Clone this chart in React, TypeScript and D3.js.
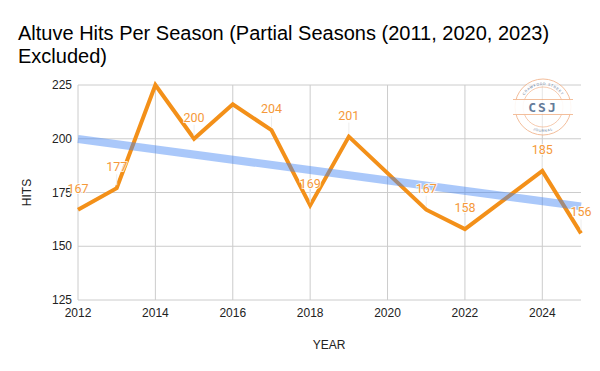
import React from "react";
import * as d3 from "d3";

const years = [2012, 2013, 2014, 2015, 2016, 2017, 2018, 2019, 2021, 2022, 2024, 2025];
const hits = [167, 177, 225, 200, 216, 204, 169, 201, 167, 158, 185, 156];
const showLabel = [true, true, false, true, false, true, true, true, true, true, true, true];
const xTicks = [2012, 2014, 2016, 2018, 2020, 2022, 2024];
const yTicks = [125, 150, 175, 200, 225];

const W = 600, H = 371;
const M = { left: 78, right: 19, top: 85, bottom: 71 };

export default function App() {
  const x = d3.scaleLinear().domain([2012, 2025]).range([M.left, W - M.right]);
  const y = d3.scaleLinear().domain([125, 225]).range([H - M.bottom, M.top]);
  const pts = years.map((yr, i) => [yr, hits[i]] as [number, number]);
  const line = d3.line<[number, number]>().x(d => x(d[0])).y(d => y(d[1]));

  const mx = d3.mean(years)!;
  const my = d3.mean(hits)!;
  const slope = d3.sum(years, (v, i) => (v - mx) * (hits[i] - my)) / d3.sum(years, v => (v - mx) ** 2);
  const trend = (v: number) => my + slope * (v - mx);

  const font = "'Liberation Sans', Arial, sans-serif";
  const cx = 543, cy = 107, r = 28;

  return (
    <svg width={W} height={H} style={{ position: "absolute", left: 0, top: 0, background: "#fff" }}>
      <rect width={W} height={H} fill="#fff" />
      <text x={18} y={40} fontFamily={font} fontSize={20} fill="#000">Altuve Hits Per Season (Partial Seasons (2011, 2020, 2023)</text>
      <text x={18} y={63} fontFamily={font} fontSize={20} fill="#000">Excluded)</text>

      {yTicks.map(t => (
        <g key={t}>
          <line x1={M.left} x2={W - M.right} y1={y(t)} y2={y(t)} stroke="#cccccc" strokeWidth={1} />
          <text x={M.left - 6} y={y(t) + 4} textAnchor="end" fontFamily={font} fontSize={12} fill="#222">{t}</text>
        </g>
      ))}
      {xTicks.map(t => (
        <g key={t}>
          <line x1={x(t)} x2={x(t)} y1={M.top} y2={H - M.bottom} stroke="#cccccc" strokeWidth={1} />
          <text x={x(t)} y={H - M.bottom + 17} textAnchor="middle" fontFamily={font} fontSize={12} fill="#222">{t}</text>
        </g>
      ))}

      <text transform={`translate(31,${(M.top + H - M.bottom) / 2}) rotate(-90)`} textAnchor="middle" fontFamily={font} fontSize={12} fill="#222">HITS</text>
      <text x={329} y={349} textAnchor="middle" fontFamily={font} fontSize={12} fill="#222">YEAR</text>

      {/* watermark */}
      <g opacity={0.85}>
        <defs>
          <path id="arcTop" d={`M ${cx - 22} ${cy} A 22 22 0 0 1 ${cx + 22} ${cy}`} />
          <path id="arcBot" d={`M ${cx - 25} ${cy} A 25 25 0 0 0 ${cx + 25} ${cy}`} />
        </defs>
        <circle cx={cx} cy={cy} r={r} fill="#fff" fillOpacity={0.6} stroke="#f2b38a" strokeWidth={1} />
        <circle cx={cx} cy={cy} r={r - 8} fill="none" stroke="#f2b38a" strokeWidth={0.8} />
        <rect x={cx - 30} y={cy - 7.5} width={60} height={15} fill="#fff" opacity={0.9} />
        <line x1={cx - 30} x2={cx + 30} y1={cy - 7.5} y2={cy - 7.5} stroke="#f2b38a" strokeWidth={1} />
        <line x1={cx - 30} x2={cx + 30} y1={cy + 7.5} y2={cy + 7.5} stroke="#f2b38a" strokeWidth={1} />
        <text x={cx} y={cy + 5} textAnchor="middle" fontFamily="'DejaVu Sans Mono', monospace" fontWeight="bold" fontSize={13} fill="#4a6488" letterSpacing={2}>CSJ</text>
        <text fontFamily={font} fontSize={3.5} fill="#4a6488" letterSpacing={0.6}>
          <textPath href="#arcTop" startOffset="50%" textAnchor="middle">CRAWFORD STREET</textPath>
        </text>
        <text fontFamily={font} fontSize={3.5} fill="#4a6488" letterSpacing={0.6}>
          <textPath href="#arcBot" startOffset="50%" textAnchor="middle">JOURNAL</textPath>
        </text>
      </g>

      <path d={line(pts)!} fill="none" stroke="#f39019" strokeWidth={4} strokeLinejoin="miter" />
      <line x1={x(2012)} y1={y(trend(2012))} x2={x(2025)} y2={y(trend(2025))} stroke="#4285f4" strokeOpacity={0.45} strokeWidth={8} />

      {pts.map((p, i) => showLabel[i] ? (
        <g key={i}>
          <line x1={x(p[0])} x2={x(p[0])} y1={y(p[1]) - 14} y2={y(p[1]) - 3} stroke="#eeeeee" strokeWidth={1} />
          <text x={x(p[0])} y={y(p[1]) - 17} textAnchor="middle" fontFamily="Roboto, sans-serif" fontSize={12.5}
            fill="#f5993a" stroke="#fff" strokeWidth={2} paintOrder="stroke" strokeOpacity={0.8}>{p[1]}</text>
        </g>
      ) : null)}
    </svg>
  );
}
